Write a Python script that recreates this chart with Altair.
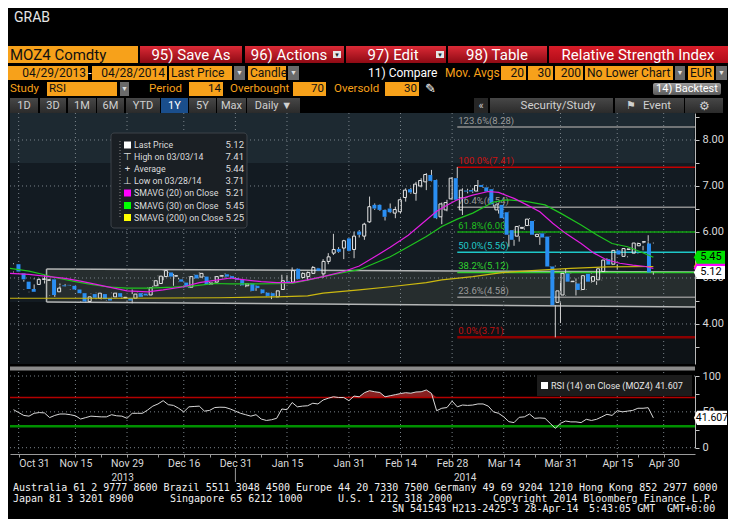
import altair as alt
import pandas as pd

# ---------------- data ----------------
OPEN = [5.30,5.10,4.92,4.76,4.86,4.97,4.95,4.97,4.70,4.84,
        4.85,4.83,4.75,4.67,4.49,4.65,4.56,4.65,4.56,4.59,
        4.67,4.57,4.56,4.56,4.67,4.66,4.63,4.83,4.88,5.03,
        5.12,5.04,4.97,4.90,4.80,5.07,5.02,5.03,4.87,4.91,
        5.04,5.08,5.04,5.00,4.97,4.83,4.88,4.83,4.75,4.68,
        4.67,4.59,4.75,4.93,4.91,5.20,5.01,5.03,5.10,5.21,
        5.09,5.36,5.54,5.63,5.65,5.86,5.62,6.01,5.91,6.22,
        6.59,6.59,6.48,6.51,6.41,6.44,6.75,6.93,6.84,7.00,
        7.09,7.24,7.13,6.33,6.48,6.72,7.17,6.48,6.90,6.91,
        6.89,7.02,6.97,6.93,6.48,6.59,6.43,6.04,5.91,6.08,
        6.14,6.24,5.90,5.97,5.90,5.25,4.47,4.63,5.10,4.92,
        4.88,4.75,5.09,4.93,4.96,5.14,5.41,5.30,5.60,5.47,
        5.62,5.54,5.70,5.78,5.75]
HIGH = [5.32,5.11,4.96,4.77,4.99,4.99,5.06,4.98,4.79,4.88,
        4.87,4.84,4.76,4.68,4.60,4.66,4.68,4.66,4.57,4.68,
        4.68,4.60,4.57,4.75,4.68,4.67,4.80,4.95,5.05,5.17,
        5.13,5.09,5.00,4.91,5.04,5.08,5.12,5.04,4.91,5.04,
        5.06,5.10,5.05,5.01,4.98,4.89,4.89,4.84,4.76,4.69,
        4.68,4.73,5.07,5.06,5.23,5.21,5.12,5.14,5.26,5.22,
        5.41,5.54,5.96,5.67,5.83,5.87,6.01,6.04,6.20,6.77,
        6.62,6.60,6.49,6.62,6.55,6.73,6.95,6.96,7.09,7.17,
        7.28,7.35,7.14,6.64,6.70,7.19,7.41,6.95,6.94,6.95,
        7.13,7.03,6.98,6.94,6.62,6.61,6.44,6.05,6.15,6.12,
        6.30,6.25,5.97,5.98,5.91,5.27,4.90,5.20,5.11,4.99,
        4.90,5.06,5.10,5.04,5.21,5.43,5.42,5.62,5.61,5.65,
        5.65,5.77,5.77,5.93,5.77]
LOW = [5.12,4.96,4.75,4.69,4.75,4.96,4.88,4.62,4.59,4.78,
       4.82,4.74,4.66,4.48,4.47,4.56,4.54,4.53,4.50,4.58,
       4.58,4.55,4.49,4.45,4.58,4.60,4.62,4.80,4.82,4.95,
       5.02,4.83,4.91,4.79,4.78,4.98,5.01,4.85,4.85,4.90,
       5.03,5.01,4.99,4.95,4.83,4.80,4.71,4.72,4.66,4.60,
       4.54,4.58,4.74,4.89,4.90,4.97,4.99,4.94,5.09,5.15,
       5.00,5.30,5.50,5.55,5.41,5.58,5.43,5.88,5.83,6.20,
       6.48,6.46,6.25,6.41,6.30,6.41,6.66,6.83,6.68,6.97,
       6.91,7.10,6.28,6.17,6.45,6.70,6.69,6.37,6.84,6.85,
       6.88,6.96,6.87,6.55,6.40,6.28,5.68,5.70,5.79,6.05,
       6.13,5.93,5.72,5.87,5.24,3.71,4.02,4.62,4.91,4.62,
       4.73,4.74,4.90,4.85,4.95,5.13,5.28,5.19,5.50,5.45,
       5.60,5.53,5.60,5.57,5.07]
CLOSE = [5.14,4.97,4.76,4.70,4.97,4.98,4.96,4.63,4.78,4.82,
         4.84,4.75,4.67,4.49,4.59,4.57,4.67,4.54,4.51,4.67,
         4.59,4.58,4.51,4.65,4.59,4.62,4.79,4.94,5.04,5.16,
         5.03,5.05,4.92,4.80,5.03,4.99,5.10,4.86,4.89,5.03,
         5.05,5.03,5.00,4.96,4.84,4.87,4.72,4.78,4.67,4.61,
         4.61,4.72,4.94,4.91,5.16,4.98,5.10,5.12,5.23,5.16,
         5.36,5.46,5.62,5.57,5.81,5.59,5.91,5.94,6.17,6.55,
         6.51,6.48,6.33,6.43,6.49,6.70,6.91,6.86,7.04,7.12,
         7.25,7.11,6.30,6.61,6.64,7.17,6.70,6.91,6.88,6.88,
         7.01,6.98,6.88,6.60,6.59,6.30,5.94,5.83,6.12,6.10,
         6.28,5.94,5.95,5.88,5.25,4.41,4.72,5.10,4.92,4.93,
         4.74,5.05,4.92,5.03,5.20,5.39,5.29,5.60,5.51,5.64,
         5.63,5.76,5.75,5.79,5.12]
RSI14 = [53,49,45,44,48,49,48.5,42,45,47,
         47,46,44.5,40,42,44,43.5,43,43,46,
         44.5,44,41,48,48,48,52.6,58,61,65.6,
         60,59,55,50,57,57.5,58,51,52,56,
         56.5,56.3,54,51,48,46,44,46,40,38,
         39,41,54,53,63,57,58,58.5,62,61,
         66.5,69,71,70,70,65.6,72,71,76.7,79.5,
         78,77,71,72.5,74,75.5,76.7,76,77.7,78,
         80.5,75.8,51.6,55,56,65,57,59.5,59,59.5,
         61,61,58,50,48,43,36.3,35,42.4,43,
         47,41,41.5,41,34,27,34,37.2,36,36,
         35,39.6,38,39.6,43,46.6,45,51.6,50,51,
         52,55,55,55.8,41.6]

SMA20_I = [-0.68,3,6,10,13,16,19,22,26,29,33,36,39,42,44,48,51,54,57,60,
           64,67,70,73,76.5,80,82,84,86,89,92,94,97,99.5,102,104.5,107,110,112.5,115,
           117.5,120,122.5,124]
SMA20_V = [5.10,5.08,5.04,4.99,4.93,4.86,4.79,4.72,4.70,4.74,4.81,4.90,4.95,5.00,4.97,4.92,4.90,4.90,4.96,5.03,
           5.14,5.26,5.46,5.67,5.93,6.26,6.45,6.58,6.70,6.80,6.88,6.86,6.73,6.59,6.44,6.19,5.97,5.75,5.54,5.39,
           5.32,5.28,5.25,5.21]
SMA30_I = [-0.68,3,6,8,12,15,18,22,26,31,35,39,42,47,54,57,60,64,67,70,
           73,76.5,80,83,86,89,93,95.5,99,103,106,110,113,116,119,121.5,124]
SMA30_V = [5.21,5.15,5.07,5.01,4.92,4.86,4.81,4.78,4.78,4.80,4.83,4.88,4.87,4.87,4.88,4.95,5.03,5.12,5.18,5.32,
           5.46,5.68,5.90,6.12,6.28,6.41,6.65,6.70,6.67,6.59,6.41,6.15,5.94,5.75,5.68,5.57,5.45]
SMA200_I = [-0.68,20,40,51,57,60,67,73,80,83,89,95,102,108,115,124]
SMA200_V = [4.56,4.56,4.57,4.59,4.61,4.67,4.74,4.81,4.90,4.96,5.03,5.12,5.17,5.21,5.24,5.25]

TICK_IDX = [1, 12, 22, 33, 43, 53, 65, 75, 85, 95, 106, 117, 126]
TICK_LBL = ["Oct 31", "Nov 15", "Nov 29", "Dec 16", "Dec 31", "Jan 15", "Jan 31",
            "Feb 14", "Feb 28", "Mar 14", "Mar 31", "Apr 15", "Apr 30"]
MINOR_IDX = [17, 28, 38, 48, 59, 70, 80, 90, 101, 111, 121]
YEAR_LBL = ["2013", "2014"]
YEAR_BREAK = 43
PRICE_TICKS = [3.5, 4.0, 4.5, 5.0, 5.5, 6.0, 6.5, 7.0, 7.5, 8.0, 8.5]
PRICE_GRID = [4, 5, 6, 7, 8]
RSI_TICKS = [0, 25, 50, 75, 100]
RSI_GRID = [0, 50, 100]
OVERBOUGHT, OVERSOLD = 70, 30

FIB_PCT = ["123.6%", "100.0%", "76.4%", "61.8%", "50.0%", "38.2%", "23.6%", "0.0%"]
FIB_VAL = [8.28, 7.41, 6.54, 6.00, 5.56, 5.12, 4.58, 3.71]
FIB_FROM = 86
CHANNEL_I = [6.4, 132.07]
CHANNEL_TOP = [5.196, 5.13]
CHANNEL_BOT = [4.478, 4.37]

LEG_LABELS = ["Last Price", "High on 03/03/14", "Average", "Low on 03/28/14",
              "SMAVG (20) on Close", "SMAVG (30) on Close", "SMAVG (200) on Close"]
LEG_VALUES = ["5.12", "7.41", "5.44", "3.71", "5.21", "5.45", "5.25"]
TAG_VALUES = [5.25, 5.21, 5.45, 5.12]
TAG_TEXT = ["", "", "5.45", "5.12"]
RSI_LAST = 41.607

# ---------------- styles ----------------
FONT = "Roboto, 'Liberation Sans', sans-serif"
MONO = "'DejaVu Sans Mono', 'Liberation Mono', monospace"
OR = "#f7a11a"
FIB_COLOR = ["#8e8e8e", "#c40000", "#8e8e8e", "#12a012", "#1ec8c8", "#2ed02e", "#8e8e8e", "#8c0000"]
FIB_TCOLOR = ["#9a9a9a", "#d01010", "#9a9a9a", "#20c020", "#20c8c8", "#30d030", "#9a9a9a", "#c01010"]
FIB_W = [1.5, 1.5, 1.5, 1.5, 1.5, 1.5, 1.5, 2.5]
TAG_FILL = ["#d4c400", "#ff00ff", "#00e000", "#ffffff"]
LEG_SWATCH = ["#ffffff", None, None, None, "#ff00ff", "#00ff00", "#ffff00"]
LEG_ICON = ["", "\u22a4", "+", "\u22a5", "", "", ""]

XMIN, XMAX = -0.68, 132.07


def cx(p):
    return p - 8


def XI(f, axis=None):
    return alt.X(f"{f}:Q", scale=alt.Scale(domain=[XMIN, XMAX], range=[2, 687]), axis=axis)


def YP(f, axis=None):
    return alt.Y(f"{f}:Q", scale=alt.Scale(domain=[3.13, 8.587], range=[356, 105]), axis=axis)


def YR(f, axis=None):
    return alt.Y(f"{f}:Q", scale=alt.Scale(domain=[0, 100], range=[439.7, 368]), axis=axis)


def PX(f):
    return alt.X(f"{f}:Q", scale=alt.Scale(domain=[8, 728], range=[0, 720]), axis=None)


def PY(f):
    return alt.Y(f"{f}:Q", scale=alt.Scale(domain=[8, 519], range=[0, 511]), axis=None)


def rects(rows, **kw):
    df = pd.DataFrame(rows, columns=["x0", "x1", "y0", "y1", "f"])
    return alt.Chart(df).mark_rect(**kw).encode(
        x=PX("x0"), x2=alt.X2("x1"), y=PY("y0"), y2=alt.Y2("y1"),
        color=alt.Color("f:N", scale=None))


def grad_rects(rows, grad, **kw):
    df = pd.DataFrame(rows, columns=["x0", "x1", "y0", "y1"])
    return alt.Chart(df).mark_rect(color=grad, **kw).encode(
        x=PX("x0"), x2=alt.X2("x1"), y=PY("y0"), y2=alt.Y2("y1"))


def texts(rows, align, font=FONT):
    df = pd.DataFrame(rows, columns=["t", "x", "y", "c", "s"])
    return alt.Chart(df).mark_text(align=align, baseline="middle", font=font).encode(
        x=PX("x"), y=PY("y"), text="t:N",
        color=alt.Color("c:N", scale=None), size=alt.Size("s:Q", scale=None))


def vgrad(c1, c2):
    return alt.LinearGradient(gradient="linear", x1=0, x2=0, y1=0, y2=1,
                              stops=[alt.GradientStop(color=c1, offset=0),
                                     alt.GradientStop(color=c2, offset=1)])


L = []

# ---------------- panel backgrounds ----------------
L.append(rects([
    (10, 694.5, 113, 364, "#131b22"),
    (10, 694.5, 113, 163, "#1d2931"),
    (10, 694.5, 302, 364, "#0d1216"),
    (10, 695, 366.5, 370.5, "#8a8a8a"),
]))

# channel annotation
ch = pd.DataFrame({"i": CHANNEL_I, "top": CHANNEL_TOP, "bot": CHANNEL_BOT})
L.append(alt.Chart(ch).mark_area(color="#262d2e").encode(x=XI("i"), y=YP("top"), y2=alt.Y2("bot")))
L.append(alt.Chart(ch).mark_line(color="#b4b6b6", strokeWidth=1.5).encode(x=XI("i"), y=YP("top")))
L.append(alt.Chart(ch).mark_line(color="#b4b6b6", strokeWidth=1.5).encode(x=XI("i"), y=YP("bot")))
L.append(alt.Chart(ch.iloc[:1]).mark_rule(color="#b4b6b6", strokeWidth=1.5).encode(x=XI("i"), y=YP("top"), y2=alt.Y2("bot")))

# ---------------- grids and axes ----------------
GRID = dict(color="#7a838a", strokeDash=[1, 3], strokeWidth=1)
pg = pd.DataFrame({"v": PRICE_GRID})
L.append(alt.Chart(pg).mark_rule(**GRID).encode(
    x=alt.value(2), x2=alt.value(687),
    y=YP("v", axis=alt.Axis(orient="right", offset=-33, values=PRICE_TICKS,
                            labelExpr="datum.value % 1 == 0 ? format(datum.value, '.2f') : ''",
                            labelOverlap=False, labelColor="#d8d8d8", labelFont=FONT,
                            labelFontSize=11, labelPadding=3, tickColor="#c8c8c8", tickSize=4,
                            domainColor="#b8b8b8", grid=False, title=""))))
vg = pd.DataFrame({"i": TICK_IDX})
L.append(alt.Chart(vg).mark_rule(**GRID).encode(x=XI("i"), y=alt.value(cx(113)), y2=alt.value(cx(364))))
L.append(alt.Chart(vg).mark_rule(**GRID).encode(x=XI("i"), y=alt.value(cx(372)), y2=alt.value(cx(454))))
rg = pd.DataFrame({"v": RSI_GRID})
L.append(alt.Chart(rg).mark_rule(**GRID).encode(
    x=alt.value(2), x2=alt.value(687),
    y=YR("v", axis=alt.Axis(orient="right", offset=-33, values=RSI_TICKS,
                            labelExpr="datum.value % 50 == 0 ? '' + datum.value : ''",
                            labelOverlap=False, labelColor="#d8d8d8", labelFont=FONT,
                            labelFontSize=11, labelPadding=3, tickColor="#c8c8c8", tickSize=4,
                            domainColor="#b8b8b8", grid=False, title=""))))

# ---------------- Fibonacci retracement ----------------
fib = pd.DataFrame({"v": FIB_VAL, "i0": [FIB_FROM] * len(FIB_VAL),
                    "lab": [f"{p}({v:.2f})" for p, v in zip(FIB_PCT, FIB_VAL)],
                    "c": FIB_COLOR, "tc": FIB_TCOLOR, "w": FIB_W})
L.append(alt.Chart(fib).mark_rule().encode(
    x=XI("i0"), x2=alt.value(687), y=YP("v"),
    color=alt.Color("c:N", scale=None), strokeWidth=alt.StrokeWidth("w:Q", scale=None)))
L.append(alt.Chart(fib).mark_text(align="left", baseline="bottom", dx=1, dy=-1, font=FONT, fontSize=9.5).encode(
    x=XI("i0"), y=YP("v"), text="lab:N", color=alt.Color("tc:N", scale=None)))

# ---------------- candles ----------------
cd = pd.DataFrame({"i": range(len(OPEN)), "o": OPEN, "h": HIGH, "l": LOW, "c": CLOSE})
cd["tp"] = cd[["o", "c"]].max(axis=1)
cd["bt"] = cd[["o", "c"]].min(axis=1)
up = cd[cd.c >= cd.o]
dn = cd[cd.c < cd.o]
L.append(alt.Chart(cd).mark_rule(color="#cfcfcf", strokeWidth=1).encode(x=XI("i"), y=YP("tp"), y2=alt.Y2("h")))
L.append(alt.Chart(cd).mark_rule(color="#cfcfcf", strokeWidth=1).encode(x=XI("i"), y=YP("l"), y2=alt.Y2("bt")))
L.append(alt.Chart(dn).mark_bar(size=4, color="#2a8ef2").encode(x=XI("i"), y=YP("o"), y2=alt.Y2("c")))
L.append(alt.Chart(up).mark_bar(size=3, fillOpacity=0, stroke="#e6e6e6", strokeWidth=1).encode(
    x=XI("i"), y=YP("o"), y2=alt.Y2("c")))

# ---------------- moving averages ----------------
for xs, ys, col in [(SMA200_I, SMA200_V, "#cbb810"), (SMA30_I, SMA30_V, "#1fc41f"), (SMA20_I, SMA20_V, "#e21ee2")]:
    d = pd.DataFrame({"i": xs, "v": ys})
    L.append(alt.Chart(d).mark_line(color=col, strokeWidth=1.2, clip=True).encode(x=XI("i"), y=YP("v")))

# ---------------- legend box ----------------
L.append(rects([(111, 247, 133, 228, "#1a1f24")], stroke="#3d4349", strokeWidth=1, cornerRadius=3))
LEG_Y = [145, 157, 169, 181, 193, 205.5, 217.5]
L.append(alt.Chart(pd.DataFrame({"x": [120], "y0": [141], "y1": [218]})).mark_rule(
    color="#8a8a8a", strokeDash=[1, 2]).encode(x=PX("x"), y=PY("y0"), y2=alt.Y2("y1")))
L.append(rects([(124, 131, y - 3.5, y + 3.5, c) for y, c in zip(LEG_Y, LEG_SWATCH) if c]))
L.append(texts([(t, 127.5, y, "#dcdcdc", 9.5) for y, t in zip(LEG_Y, LEG_ICON) if t], "center"))
L.append(texts([(t, 134, y, "#dcdcdc", 8.8) for y, t in zip(LEG_Y, LEG_LABELS)], "left"))
L.append(texts([(t, 244, y, "#dcdcdc", 9.5) for y, t in zip(LEG_Y, LEG_VALUES)], "right"))

# ---------------- last-value tags ----------------
TAG_PATH = "M-1.22,0L-1,-0.46L1,-0.46L1,0.46L-1,0.46Z"
tg = pd.DataFrame({"v": TAG_VALUES, "f": TAG_FILL, "t": TAG_TEXT})
L.append(alt.Chart(tg).mark_point(shape=TAG_PATH, size=784, filled=True, opacity=1, strokeWidth=0).encode(
    x=alt.value(cx(711)), y=YP("v"), color=alt.Color("f:N", scale=None)))
L.append(alt.Chart(tg[tg.t != ""]).mark_text(align="center", baseline="middle", font=FONT, fontSize=11,
                                            color="#000000").encode(
    x=alt.value(cx(711)), y=YP("v"), text="t:N"))

# ---------------- RSI panel ----------------
rd = pd.DataFrame({"i": range(len(RSI14)), "r": RSI14})
rd["up"] = rd.r.clip(lower=OVERBOUGHT)
rd["dn"] = rd.r.clip(upper=OVERSOLD)
rd["ob"] = OVERBOUGHT
rd["os"] = OVERSOLD
lv = pd.DataFrame({"v": [OVERBOUGHT, OVERSOLD], "c": ["#b30000", "#009000"], "w": [1.5, 2.5]})
L.append(alt.Chart(rd).mark_area(color="#862020").encode(x=XI("i"), y=YR("up"), y2=alt.Y2("ob")))
L.append(alt.Chart(rd).mark_area(color="#1f8a1f").encode(x=XI("i"), y=YR("dn"), y2=alt.Y2("os")))
L.append(alt.Chart(lv).mark_rule().encode(
    x=alt.value(2), x2=alt.value(687), y=YR("v"),
    color=alt.Color("c:N", scale=None), strokeWidth=alt.StrokeWidth("w:Q", scale=None)))
xexpr = " : ".join(f"datum.value == {i} ? '{t}'" for i, t in zip(TICK_IDX, TICK_LBL)) + " : ''"
L.append(alt.Chart(rd).mark_line(color="#d8d8d8", strokeWidth=1).encode(
    x=XI("i", axis=alt.Axis(orient="bottom", offset=-65, values=sorted(TICK_IDX + MINOR_IDX),
                            labelExpr=xexpr, labelOverlap=False, labelFlush=20,
                            labelColor="#d8d8d8", labelFont=FONT, labelFontSize=10.5,
                            labelPadding=1, tickColor="#9a9a9a", tickSize=3,
                            domainColor="#9a9a9a", grid=False, title="")),
    y=YR("r")))
# RSI legend
L.append(rects([(537, 692, 375, 396, "#1c1c1c"), (541, 548, 382, 389, "#ffffff")]))
L.append(texts([("RSI (14) on Close (MOZ4) " + f"{RSI_LAST:.3f}", 551, 386, "#e6e6e6", 9)], "left"))
rt = pd.DataFrame({"v": [RSI_LAST], "t": [f"{RSI_LAST:.3f}"]})
L.append(alt.Chart(rt).mark_point(shape="M-1.2,0L-1,-0.47L1,-0.47L1,0.47L-1,0.47Z", size=900, filled=True,
                                  opacity=1, strokeWidth=0, color="#ffffff").encode(
    x=alt.value(cx(712)), y=YR("v")))
L.append(alt.Chart(rt).mark_text(align="center", baseline="middle", font=FONT, fontSize=10.5,
                                 color="#000000").encode(x=alt.value(cx(712)), y=YR("v"), text="t:N"))

# year labels under the date axis
yr = pd.DataFrame({"i": [(XMIN + YEAR_BREAK) / 2, (YEAR_BREAK + XMAX) / 2], "t": YEAR_LBL})
L.append(alt.Chart(yr).mark_text(align="center", baseline="middle", font=FONT, fontSize=10,
                                 color="#d8d8d8").encode(x=XI("i"), y=alt.value(cx(477.5)), text="t:N"))
L.append(alt.Chart(pd.DataFrame({"i": [YEAR_BREAK]})).mark_rule(color="#9a9a9a").encode(
    x=XI("i"), y=alt.value(cx(468)), y2=alt.value(cx(482))))

# ---------------- header (terminal toolbar) ----------------
L.append(texts([("GRAB", 14, 17.5, "#e6e6e6", 14)], "left"))
L.append(rects([
    (8, 138, 46, 63, OR),
    (8, 88, 66, 80, OR), (92, 167, 66, 80, OR), (169, 232, 66, 80, OR), (248, 286, 66, 80, OR),
    (501, 526, 66, 80, OR), (528, 553, 66, 80, OR), (555, 583, 66, 80, OR), (585, 673, 66, 80, OR),
    (688, 714, 66, 80, OR),
    (47, 117, 82, 96, OR), (189, 223, 82, 96, OR), (293, 326, 82, 96, OR), (385, 419, 82, 96, OR),
    (234, 245, 66, 80, "#6a6a6a"), (288, 299, 66, 80, "#6a6a6a"), (675, 685, 66, 80, "#6a6a6a"),
    (716, 727, 66, 80, "#6a6a6a"), (120, 129, 82, 96, "#6a6a6a"),
    (161, 188, 98, 113, "#1a4e8c"), (474, 488, 98, 113, "#262626"),
]))
L.append(grad_rects([(140, 242, 46, 63), (245, 344, 46, 63), (346, 446, 46, 63), (448, 547, 46, 63)],
                    vgrad("#dc2a36", "#8e0a14")))
L.append(grad_rects([(549, 728, 46, 63)], vgrad("#d81c28", "#b00c18")))
L.append(rects([(333, 341, 51, 58, "#e6e6e6"), (436, 444, 51, 58, "#e6e6e6")]))
L.append(grad_rects([(653, 721, 83, 95)], vgrad("#9c9c9c", "#5a5a5a"), cornerRadius=2))
L.append(grad_rects([(10, 38, 98, 113), (40, 66, 98, 113), (68, 96, 98, 113), (97, 124, 98, 113),
                     (126, 160, 98, 113), (189, 216, 98, 113), (217, 246, 98, 113), (247, 300, 98, 113),
                     (490, 613, 98, 113), (615, 684, 98, 113), (685, 723, 98, 113)],
                    vgrad("#474747", "#2b2b2b")))
L.append(texts([
    ("MOZ4 Comdty", 10, 54.5, "#111111", 15),
    ("Last Price", 171, 73, "#111111", 12), ("Candle", 250, 73, "#111111", 12),
    ("11) Compare", 368, 73, "#ffffff", 12), ("Mov. Avgs", 445, 73, OR, 12),
    ("No Lower Chart", 587, 73, "#111111", 12), ("EUR", 690, 73, "#111111", 12),
    ("Study", 10, 89, OR, 11.5), ("RSI", 49, 89, "#111111", 11.5), ("Period", 149, 89, OR, 11.5),
    ("Overbought", 230, 89, OR, 11.5), ("Oversold", 334, 89, OR, 11.5),
], "left"))
L.append(texts([
    ("04/29/2013", 86, 73, "#111111", 12), ("04/28/2014", 165, 73, "#111111", 12),
    ("20", 524, 73, "#111111", 12), ("30", 551, 73, "#111111", 12), ("200", 581, 73, "#111111", 12),
    ("14", 221, 89, "#111111", 11.5), ("70", 324, 89, "#111111", 11.5), ("30", 417, 89, "#111111", 11.5),
], "right"))
L.append(texts([
    ("95) Save As", 191, 54.5, "#ffffff", 15), ("96) Actions", 289, 54.5, "#ffffff", 15),
    ("97) Edit", 393, 54.5, "#ffffff", 15), ("98) Table", 497, 54.5, "#ffffff", 15),
    ("Relative Strength Index", 638, 54.5, "#ffffff", 15),
    ("\u25bc", 337, 55, "#222222", 6), ("\u25bc", 440, 55, "#222222", 6),
    ("-", 90, 73, "#ffffff", 12),
    ("\u25bc", 239.5, 73, "#e0e0e0", 7), ("\u25bc", 293.5, 73, "#e0e0e0", 7),
    ("\u25bc", 680, 73, "#e0e0e0", 7), ("\u25bc", 721.5, 73, "#e0e0e0", 7), ("\u25bc", 124.5, 89, "#e0e0e0", 7),
    ("\u270e", 430, 89, "#ffffff", 13), ("14) Backtest", 687, 89, "#ffffff", 11),
    ("1D", 24, 105.5, "#d0d0d0", 11), ("3D", 53, 105.5, "#d0d0d0", 11), ("1M", 82, 105.5, "#d0d0d0", 11),
    ("6M", 110.5, 105.5, "#d0d0d0", 11), ("YTD", 143, 105.5, "#d0d0d0", 11),
    ("1Y", 174.5, 105.5, "#ffffff", 11), ("5Y", 202.5, 105.5, "#d0d0d0", 11),
    ("Max", 231.5, 105.5, "#d0d0d0", 11), ("Daily \u25bc", 273.5, 105.5, "#d0d0d0", 11),
    ("\u00ab", 481, 105.5, "#d0d0d0", 11), ("Security/Study", 558, 105.5, "#d0d0d0", 11.5),
    ("\u2691", 631, 105.5, "#d0d0d0", 11), ("Event", 657, 105.5, "#d0d0d0", 11.5),
    ("\u2699", 704, 105.5, "#d0d0d0", 12),
], "center"))

# ---------------- footer ----------------
L.append(texts([
    ("Australia 61 2 9777 8600 Brazil 5511 3048 4500 Europe 44 20 7330 7500 Germany 49 69 9204 1210 Hong Kong 852 2977 6000", 13, 488, "#f0f0f0", 10),
    ("Japan 81 3 3201 8900", 13, 498.5, "#f0f0f0", 10),
    ("Singapore 65 6212 1000", 170, 498.5, "#f0f0f0", 10),
    ("U.S. 1 212 318 2000", 338, 498.5, "#f0f0f0", 10),
    ("Copyright 2014 Bloomberg Finance L.P.", 493, 498.5, "#f0f0f0", 10),
    ("SN 541543 H213-2425-3 28-Apr-14", 392, 509, "#f0f0f0", 10),
    ("5:43:05 GMT", 589, 509, "#f0f0f0", 10),
    ("GMT+0:00", 667, 509, "#f0f0f0", 10),
], "left", font=MONO))

chart = alt.layer(*L).resolve_scale(x="independent", y="independent").properties(
    width=720, height=511, padding=0, background="#000000",
    autosize=alt.AutoSizeParams(type="none"),
).configure_view(strokeWidth=0)

chart.save("out.html", embed_options={"renderer": "svg", "actions": False})
